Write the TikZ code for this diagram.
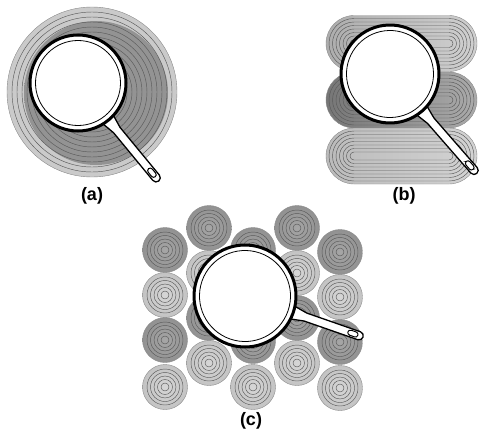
\documentclass[tikz,border=0pt]{standalone}
\usepackage{fontspec}
\setmainfont{Liberation Sans}
\definecolor{clair}{HTML}{CACACA}
\definecolor{fonce}{HTML}{939393}
\definecolor{trait}{HTML}{5A5A5A}
\definecolor{bord}{HTML}{8A8A8A}
% foyers (c)
\definecolor{fc1}{HTML}{A6A6A6}
\definecolor{fc2}{HTML}{7C7C7C}
\definecolor{cl1}{HTML}{D6D6D6}
\definecolor{cl2}{HTML}{B0B0B0}
% zones (b)
\definecolor{hautg}{HTML}{ADADAD}
\definecolor{hautd}{HTML}{D0D0D0}
\definecolor{milg}{HTML}{767676}
\definecolor{mild}{HTML}{ABABAB}
\definecolor{basg}{HTML}{BBBBBB}
\definecolor{basd}{HTML}{D3D3D3}
\pgfdeclareradialshading{chaleur}{\pgfpoint{0bp}{0bp}}%
  {color(0bp)=(fonce); color(29bp)=(fonce); color(50bp)=(clair)}
\pgfdeclareradialshading{feufonce}{\pgfpoint{0bp}{0bp}}%
  {color(0bp)=(fc1); color(50bp)=(fc2)}
\pgfdeclareradialshading{feuclair}{\pgfpoint{0bp}{0bp}}%
  {color(0bp)=(cl1); color(50bp)=(cl2)}
\tikzset{
  etiquette/.style={font=\bfseries\fontsize{18}{20}\selectfont},
  anneau/.style={trait, line width=0.45pt},
}
% po\^ele : centre, rayon, angle du manche, longueur du manche
\newcommand{\poele}[4]{%
  \begin{scope}[shift={#1}, rotate=#3]
    \filldraw[fill=white, line width=1.3pt, line join=round]
      (#2-3,7) -- (#2+12,4.2) -- (#4-4.2,4.2) arc (90:-90:4.2)
      -- (#2+12,-4.2) -- (#2-3,-7) -- cycle;
    \draw[line width=1pt, rounded corners=2.6pt] (#4-16,-2.6) rectangle (#4-5.5,2.6);
    \filldraw[fill=white, line width=3pt] (0,0) circle (#2-1);
    \draw[line width=0.8pt] (0,0) circle (#2-6.5);
  \end{scope}}

\begin{document}
\begin{tikzpicture}[x=1pt, y=-1pt]
  \useasboundingbox (0,0) rectangle (482,434);
  % --- (a) foyer unique ---
  \begin{scope}
    \fill[clair] (92,92) circle (85);
    \begin{scope}
      \clip (92,92) circle (85);
      \shade[shading=chaleur] (96,93) circle (72);
    \end{scope}
    \foreach \r in {20,25,...,80}{
      \draw[anneau] (92,92) circle (\r);
    }
    \draw[bord, line width=0.4pt] (92,92) circle (85);
    \poele{(78,83)}{49}{-50.5}{127}
    \node[etiquette] (la) at (92,196) {(a)};
  \end{scope}
  % --- (b) zones allong\'ees ---
  \begin{scope}
    \foreach \yc/\cg/\cd in {43.5/hautg/hautd, 100/milg/mild, 156/basg/basd}{
      \shade[left color=\cg, right color=\cd]
        (354,\yc-28) -- (449,\yc-28) arc (-90:90:28) -- (354,\yc+28) arc (90:270:28) -- cycle;
      \foreach \r in {4,7.5,...,25}{
        \draw[anneau] (354,\yc-\r) -- (449,\yc-\r) arc (-90:90:\r)
          -- (354,\yc+\r) arc (90:270:\r) -- cycle;
      }
      \draw[bord, line width=0.4pt]
        (354,\yc-28) -- (449,\yc-28) arc (-90:90:28) -- (354,\yc+28) arc (90:270:28) -- cycle;
    }
    \poele{(390,74)}{50}{-48.9}{132}
    \node[etiquette] (lb) at (404,196) {(b)};
  \end{scope}
  % --- (c) matrice de petits foyers ---
  \begin{scope}
    \foreach \x/\y/\s in {209/228/feufonce, 297/228/feufonce,
      165/250/feufonce, 253/250/feufonce, 340/252/feufonce,
      209/273/feuclair, 297/273/feuclair,
      165/295/feuclair, 253/295/feuclair, 340/297/feuclair,
      209/318/feufonce, 297/318/feufonce,
      165/340/feufonce, 253/341/feufonce, 340/342/feufonce,
      209/363/feuclair, 297/363/feuclair,
      165/387/feuclair, 253/387/feuclair, 340/388/feuclair}{
      \shade[shading=\s] (\x,\y) circle (22.5);
      \foreach \r in {4,7.5,...,19}{
        \draw[anneau] (\x,\y) circle (\r);
      }
      \draw[bord, line width=0.4pt] (\x,\y) circle (22.5);
    }
    \poele{(245,296)}{52}{-19.2}{125}
    \node[etiquette] (lc) at (251,421) {(c)};
  \end{scope}
\end{tikzpicture}
\end{document}
